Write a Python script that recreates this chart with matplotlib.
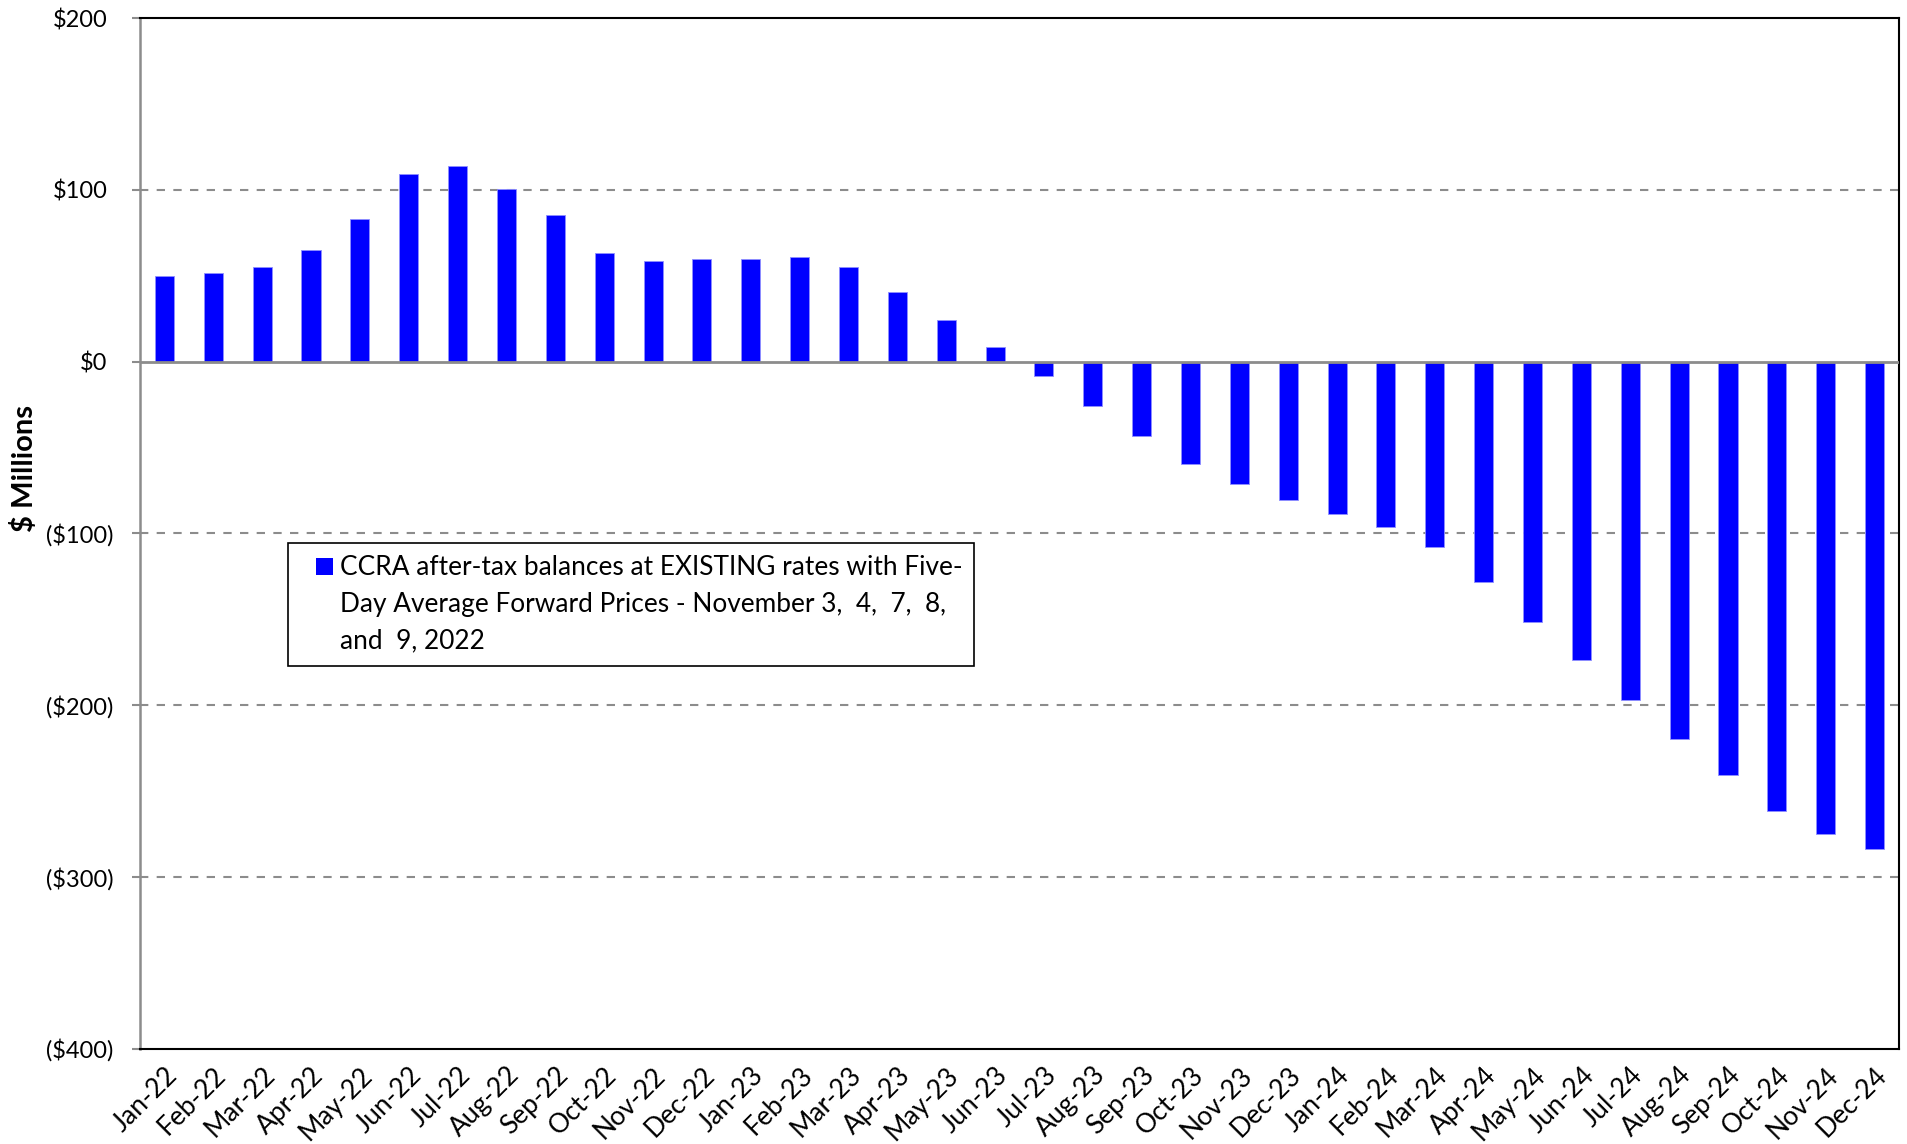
import matplotlib
matplotlib.use("Agg")
import matplotlib.pyplot as plt
import matplotlib.transforms as mtransforms
from matplotlib.legend_handler import HandlerPatch
from matplotlib.patches import Rectangle
import numpy as np

plt.rcParams["font.family"] = ["Lato", "DejaVu Sans"]

months = ["Jan-22", "Feb-22", "Mar-22", "Apr-22", "May-22", "Jun-22", "Jul-22", "Aug-22",
          "Sep-22", "Oct-22", "Nov-22", "Dec-22", "Jan-23", "Feb-23", "Mar-23", "Apr-23",
          "May-23", "Jun-23", "Jul-23", "Aug-23", "Sep-23", "Oct-23", "Nov-23", "Dec-23",
          "Jan-24", "Feb-24", "Mar-24", "Apr-24", "May-24", "Jun-24", "Jul-24", "Aug-24",
          "Sep-24", "Oct-24", "Nov-24", "Dec-24"]
balances = [49.5, 51.7, 55.3, 64.9, 82.9, 109.3, 114.0, 100.2, 85.3, 63.1, 58.8, 59.6,
            59.8, 60.8, 55.3, 40.2, 24.1, 8.4, -8.3, -26.0, -43.5, -59.8, -71.3, -80.6,
            -88.8, -96.4, -108.0, -128.4, -151.4, -173.7, -196.9, -219.7, -240.9, -261.9,
            -274.9, -283.8]
yticks = [200, 100, 0, -100, -200, -300, -400]
ytick_labels = ["$200", "$100", "$0", "($100)", "($200)", "($300)", "($400)"]
series_label = ("CCRA after-tax balances at EXISTING rates with Five-\n"
                "Day Average Forward Prices - November 3,  4,  7,  8,\n"
                "and  9, 2022")

BLUE = "#0000ff"


class FirstLineSquare(HandlerPatch):
    """Small square key sitting beside the first line of a wrapped label."""

    def create_artists(self, legend, orig_handle, xdescent, ydescent,
                       width, height, fontsize, trans):
        s = 0.66 * fontsize
        x0 = -xdescent + width - s
        y0 = -ydescent + (height - s) / 2 + 1.47 * fontsize
        return [Rectangle((x0, y0), s, s, facecolor=BLUE, edgecolor="none",
                          transform=trans)]


W, H = 1908, 1144
fig = plt.figure(figsize=(W / 100, H / 100), dpi=100)
ax = fig.add_axes([140 / W, 1 - 1048.5 / H, (1899 - 140) / W, (1048.5 - 18) / H])

x = np.arange(len(months))
bars = ax.bar(x, balances, width=0.39, color=BLUE, edgecolor="#8f8fff", linewidth=0.6,
              label=series_label, zorder=3)

ax.set_xlim(-0.5, len(months) - 0.5)
ax.set_ylim(-400, 200)
ax.set_yticks(yticks)
ax.set_yticklabels(ytick_labels)
ax.set_xticks(x)
ax.set_xticklabels(months, rotation=45, ha="right", rotation_mode="anchor")

for v in [100, -100, -200, -300]:
    ax.axhline(v, color="#8c8c8c", linestyle=(0, (4, 4)), linewidth=1.5, zorder=1)
ax.axhline(0, color="#8c8c8c", linewidth=2, zorder=4)

ax.tick_params(axis="y", length=6, width=1.5, color="#8c8c8c", pad=13, labelsize=17)
ax.tick_params(axis="x", length=0, pad=10, labelsize=19)

# positive values leave room for the closing parenthesis
shift = mtransforms.ScaledTranslation(-6 / 100, 0, fig.dpi_scale_trans)
for lbl in ax.get_yticklabels():
    if not lbl.get_text().startswith("("):
        lbl.set_transform(lbl.get_transform() + shift)

ax.spines["left"].set_color("#8c8c8c")
ax.spines["left"].set_linewidth(1.8)
for s in ["top", "right", "bottom"]:
    ax.spines[s].set_color("black")
    ax.spines[s].set_linewidth(1.5)

fig.text(24 / W, 1 - 469 / H, "$ Millions", rotation=90, ha="center", va="center",
         fontsize=21, fontweight="bold")

leg = ax.legend(loc="upper left", bbox_to_anchor=(288 / W, 1 - 543 / H),
                bbox_transform=fig.transFigure, borderaxespad=0, fancybox=False,
                edgecolor="black", framealpha=1, fontsize=18.9, handlelength=1.26,
                handleheight=0.7, handletextpad=0.27, borderpad=0.45, labelspacing=0,
                handler_map={bars: FirstLineSquare()})
leg.get_frame().set_linewidth(1.2)
for t in leg.get_texts():
    t.set_linespacing(1.6)

fig.savefig("out.png", dpi=100)
